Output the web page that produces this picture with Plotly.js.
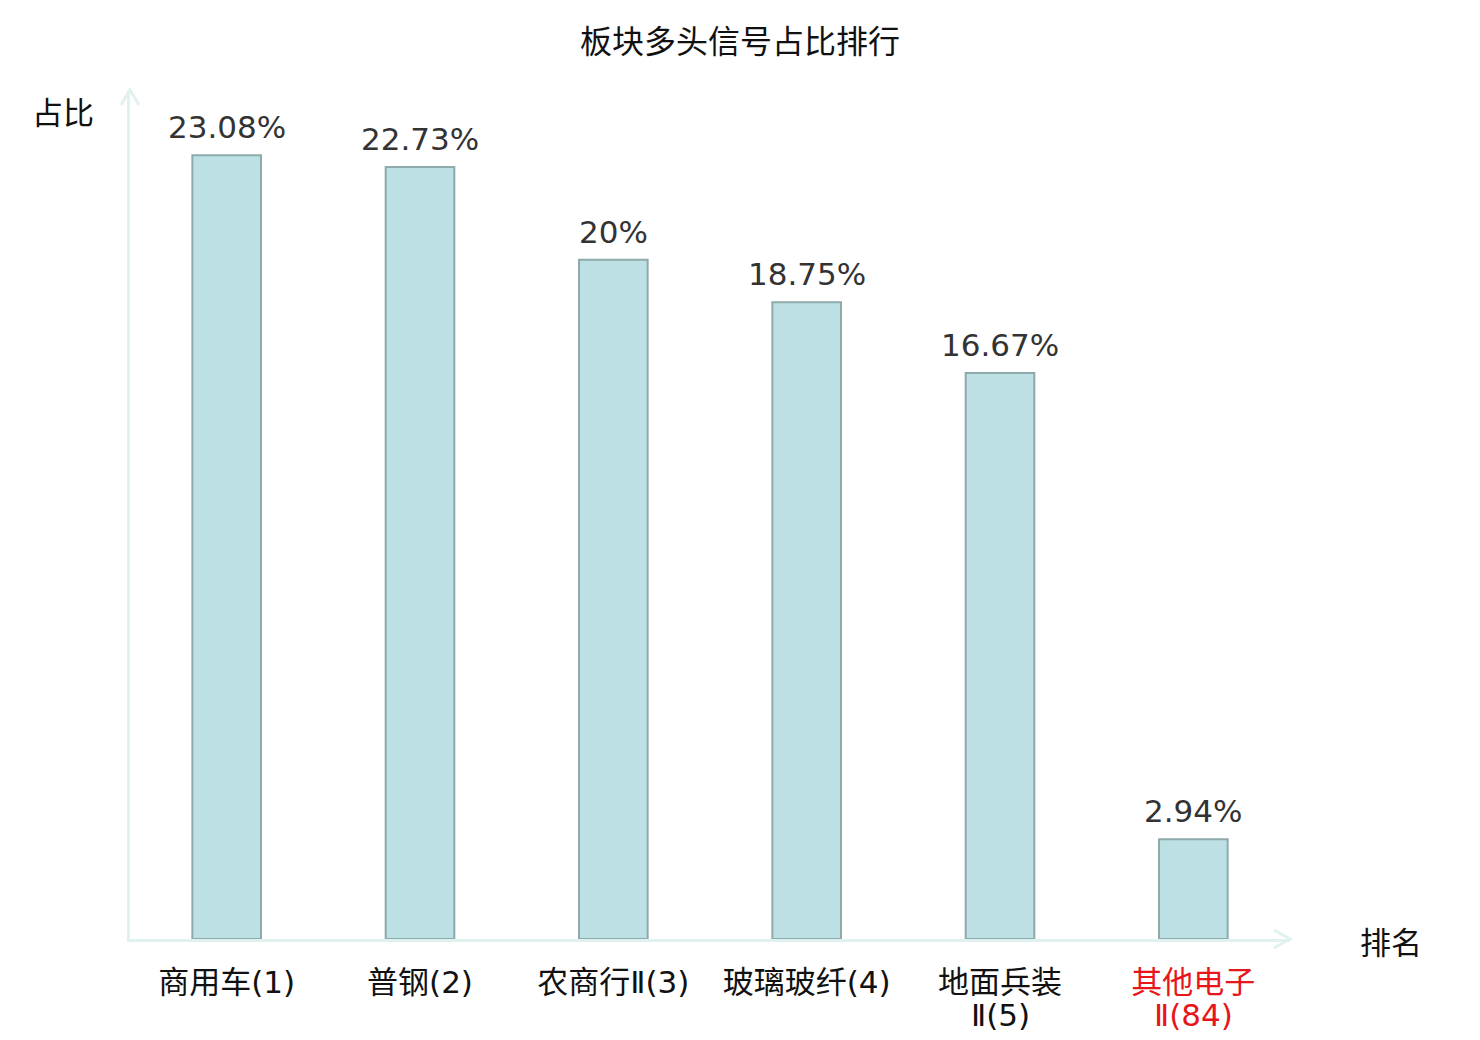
<!DOCTYPE html>
<html>
<head>
<meta charset="utf-8">
<script src="https://cdn.plot.ly/plotly-3.0.1.min.js"></script>
<style>
  html, body { margin: 0; padding: 0; background: #fff; }
  #chart { width: 1480px; height: 1040px; }
</style>
</head>
<body>
<div id="chart"></div>
<script>
// 板块 + 排名 (zweite Zeile leer, wenn keine)
const sectors = ['商用车(1)', '普钢(2)', '农商行Ⅱ(3)', '玻璃玻纤(4)', '地面兵装', '其他电子'];
const sectorsLine2 = ['', '', '', '', 'Ⅱ(5)', 'Ⅱ(84)'];
const shares = [23.08, 22.73, 20, 18.75, 16.67, 2.94];
const shareLabels = ['23.08%', '22.73%', '20%', '18.75%', '16.67%', '2.94%'];
const highlighted = [false, false, false, false, false, true];

const cjk = '"Noto Sans CJK SC", "DejaVu Sans", sans-serif';
const tickFamily = '"DejaVu Sans", "Noto Sans CJK SC", sans-serif';
const axisCol = '#dff2ef';
const red = '#e8151b';

const xs = sectors.map((s, i) => i);
const tickText = sectors.map((s, i) =>
  highlighted[i] ? `<span style="color:${red}">${s}</span>` : s);

const bars = {
  type: 'bar',
  x: xs,
  y: shares,
  width: 0.355,
  marker: {
    color: '#bce0e3',
    line: { color: '#8eaaab', width: 2 }
  },
  hoverinfo: 'none'
};

// Werte über den Balken
const valueLabels = shares.map((v, i) => ({
  x: xs[i], y: v, xref: 'x', yref: 'y',
  text: shareLabels[i],
  showarrow: false,
  yanchor: 'bottom',
  yshift: 8,
  font: { family: '"DejaVu Sans", sans-serif', size: 31, color: '#333333' }
}));

// zweite Zeile der Achsenbeschriftung (engerer Zeilenabstand)
const secondLines = sectorsLine2.map((t, i) => ({ t, i })).filter(o => o.t).map(o => ({
  x: xs[o.i], y: 0, xref: 'x', yref: 'paper',
  text: o.t,
  showarrow: false,
  xanchor: 'center', yanchor: 'middle',
  yshift: -76,
  font: { family: tickFamily, size: 31, color: highlighted[o.i] ? red : '#111' }
}));

const axisTitles = [
  { xref: 'paper', yref: 'paper', x: -0.0578, y: 0.9764, xanchor: 'center', yanchor: 'middle',
    text: '占比', showarrow: false,
    font: { family: cjk, size: 31, color: '#111' } },
  { xref: 'paper', yref: 'paper', x: 1.087, y: -0.002, xanchor: 'center', yanchor: 'middle',
    text: '排名', showarrow: false,
    font: { family: cjk, size: 31, color: '#111' } }
];

// Pfeilspitzen (Plotbereich 1160 x 849 px)
const pw = 1160, ph = 849;
const arrows = [
  { type: 'path', xref: 'paper', yref: 'paper',
    path: `M ${-9/pw} ${1 - 15/ph} L 0 1 L ${9/pw} ${1 - 15/ph}`,
    line: { color: axisCol, width: 3 } },
  { type: 'path', xref: 'paper', yref: 'paper',
    path: `M ${1 - 16/pw} ${9/ph} L 1 0 L ${1 - 16/pw} ${-9/ph}`,
    line: { color: axisCol, width: 3 } }
];

const layout = {
  width: 1480,
  height: 1040,
  paper_bgcolor: '#fff',
  plot_bgcolor: '#fff',
  margin: { l: 130, r: 190, t: 90, b: 101 },
  title: {
    text: '板块多头信号占比排行',
    x: 0.5, xref: 'container', xanchor: 'center',
    y: 0.9596, yref: 'container', yanchor: 'middle',
    font: { family: cjk, size: 32, color: '#111' }
  },
  xaxis: {
    range: [-0.5, 5.5],
    tickvals: xs,
    ticktext: tickText,
    tickfont: { family: tickFamily, size: 31, color: '#111' },
    ticklabelstandoff: 14,
    ticks: '',
    showgrid: false,
    zeroline: false,
    showline: true,
    linecolor: axisCol,
    linewidth: 3,
    fixedrange: true
  },
  yaxis: {
    range: [0, 25],
    showticklabels: false,
    ticks: '',
    showgrid: false,
    zeroline: false,
    showline: true,
    linecolor: axisCol,
    linewidth: 3,
    fixedrange: true
  },
  shapes: arrows,
  annotations: [...valueLabels, ...secondLines, ...axisTitles],
  showlegend: false
};

Plotly.newPlot('chart', [bars], layout, { displayModeBar: false, staticPlot: true });
</script>
</body>
</html>
